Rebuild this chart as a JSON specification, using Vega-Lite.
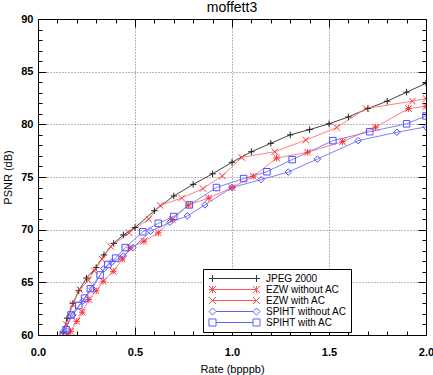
{
  "$schema": "https://vega.github.io/schema/vega-lite/v6.json",
  "width": 388,
  "height": 316,
  "autosize": "none",
  "padding": {"left": 38, "top": 19, "right": 7, "bottom": 40},
  "background": "white",
  "title": {"text": "moffett3", "fontSize": 14, "fontWeight": "normal", "font": "Liberation Sans", "baseline": "alphabetic", "frame": "group", "offset": 0, "dy": 13, "color": "black"},
  "config": {
    "font": "Liberation Sans",
    "view": {"stroke": "black", "strokeWidth": 1},
    "axis": {
      "domain": false,
      "labelFont": "Liberation Sans",
      "labelFontSize": 11,
      "labelFontWeight": "bold",
      "labelColor": "black",
      "tickColor": "black",
      "tickWidth": 1,
      "titleFont": "Liberation Sans",
      "titleFontSize": 11,
      "titleFontWeight": "normal",
      "titleColor": "black",
      "gridDash": [1, 2],
      "gridWidth": 1,
      "gridOpacity": 1
    }
  },
  "data": {
    "values": [
      {"series": "JPEG 2000", "rate": 0.13, "psnr": 60.2},
      {"series": "JPEG 2000", "rate": 0.15, "psnr": 61.6},
      {"series": "JPEG 2000", "rate": 0.18, "psnr": 63.0},
      {"series": "JPEG 2000", "rate": 0.21, "psnr": 64.2},
      {"series": "JPEG 2000", "rate": 0.25, "psnr": 65.4},
      {"series": "JPEG 2000", "rate": 0.3, "psnr": 66.4},
      {"series": "JPEG 2000", "rate": 0.34, "psnr": 67.6},
      {"series": "JPEG 2000", "rate": 0.39, "psnr": 68.7},
      {"series": "JPEG 2000", "rate": 0.44, "psnr": 69.5},
      {"series": "JPEG 2000", "rate": 0.5, "psnr": 70.2},
      {"series": "JPEG 2000", "rate": 0.6, "psnr": 71.8},
      {"series": "JPEG 2000", "rate": 0.7, "psnr": 73.2},
      {"series": "JPEG 2000", "rate": 0.8, "psnr": 74.3},
      {"series": "JPEG 2000", "rate": 0.9, "psnr": 75.3},
      {"series": "JPEG 2000", "rate": 1.0, "psnr": 76.4},
      {"series": "JPEG 2000", "rate": 1.1, "psnr": 77.4},
      {"series": "JPEG 2000", "rate": 1.2, "psnr": 78.2},
      {"series": "JPEG 2000", "rate": 1.3, "psnr": 79.0},
      {"series": "JPEG 2000", "rate": 1.4, "psnr": 79.5},
      {"series": "JPEG 2000", "rate": 1.5, "psnr": 80.05},
      {"series": "JPEG 2000", "rate": 1.6, "psnr": 80.7},
      {"series": "JPEG 2000", "rate": 1.7, "psnr": 81.5},
      {"series": "JPEG 2000", "rate": 1.8, "psnr": 82.2},
      {"series": "JPEG 2000", "rate": 1.9, "psnr": 83.05},
      {"series": "JPEG 2000", "rate": 2.0, "psnr": 83.9},

      {"series": "EZW without AC", "rate": 0.155, "psnr": 60.0},
      {"series": "EZW without AC", "rate": 0.168, "psnr": 60.35},
      {"series": "EZW without AC", "rate": 0.2, "psnr": 61.3},
      {"series": "EZW without AC", "rate": 0.228, "psnr": 62.16},
      {"series": "EZW without AC", "rate": 0.262, "psnr": 63.36},
      {"series": "EZW without AC", "rate": 0.3, "psnr": 64.2},
      {"series": "EZW without AC", "rate": 0.336, "psnr": 65.1},
      {"series": "EZW without AC", "rate": 0.388, "psnr": 66.05},
      {"series": "EZW without AC", "rate": 0.434, "psnr": 67.2},
      {"series": "EZW without AC", "rate": 0.474, "psnr": 68.27},
      {"series": "EZW without AC", "rate": 0.546, "psnr": 68.9},
      {"series": "EZW without AC", "rate": 0.62, "psnr": 69.7},
      {"series": "EZW without AC", "rate": 0.692, "psnr": 70.96},
      {"series": "EZW without AC", "rate": 0.775, "psnr": 72.35},
      {"series": "EZW without AC", "rate": 0.88, "psnr": 73.0},
      {"series": "EZW without AC", "rate": 1.0, "psnr": 74.0},
      {"series": "EZW without AC", "rate": 1.11, "psnr": 75.07},
      {"series": "EZW without AC", "rate": 1.23, "psnr": 76.8},
      {"series": "EZW without AC", "rate": 1.39, "psnr": 77.35},
      {"series": "EZW without AC", "rate": 1.57, "psnr": 78.35},
      {"series": "EZW without AC", "rate": 1.74, "psnr": 79.73},
      {"series": "EZW without AC", "rate": 1.91, "psnr": 81.5},
      {"series": "EZW without AC", "rate": 2.0, "psnr": 81.7},

      {"series": "EZW with AC", "rate": 0.13, "psnr": 60.0},
      {"series": "EZW with AC", "rate": 0.145, "psnr": 61.0},
      {"series": "EZW with AC", "rate": 0.18, "psnr": 62.9},
      {"series": "EZW with AC", "rate": 0.215, "psnr": 64.3},
      {"series": "EZW with AC", "rate": 0.26, "psnr": 65.2},
      {"series": "EZW with AC", "rate": 0.29, "psnr": 66.1},
      {"series": "EZW with AC", "rate": 0.33, "psnr": 67.2},
      {"series": "EZW with AC", "rate": 0.375, "psnr": 68.4},
      {"series": "EZW with AC", "rate": 0.47, "psnr": 69.7},
      {"series": "EZW with AC", "rate": 0.57, "psnr": 71.0},
      {"series": "EZW with AC", "rate": 0.63, "psnr": 72.3},
      {"series": "EZW with AC", "rate": 0.74, "psnr": 73.0},
      {"series": "EZW with AC", "rate": 0.85, "psnr": 73.9},
      {"series": "EZW with AC", "rate": 0.95, "psnr": 75.1},
      {"series": "EZW with AC", "rate": 1.05, "psnr": 76.85},
      {"series": "EZW with AC", "rate": 1.22, "psnr": 77.4},
      {"series": "EZW with AC", "rate": 1.38, "psnr": 78.5},
      {"series": "EZW with AC", "rate": 1.54, "psnr": 79.7},
      {"series": "EZW with AC", "rate": 1.69, "psnr": 81.5},
      {"series": "EZW with AC", "rate": 1.93, "psnr": 82.2},
      {"series": "EZW with AC", "rate": 2.0, "psnr": 82.45},

      {"series": "SPIHT without AC", "rate": 0.133, "psnr": 60.4},
      {"series": "SPIHT without AC", "rate": 0.18, "psnr": 61.9},
      {"series": "SPIHT without AC", "rate": 0.23, "psnr": 63.2},
      {"series": "SPIHT without AC", "rate": 0.28, "psnr": 64.4},
      {"series": "SPIHT without AC", "rate": 0.34, "psnr": 66.3},
      {"series": "SPIHT without AC", "rate": 0.38, "psnr": 66.9},
      {"series": "SPIHT without AC", "rate": 0.44, "psnr": 67.5},
      {"series": "SPIHT without AC", "rate": 0.49, "psnr": 68.3},
      {"series": "SPIHT without AC", "rate": 0.58, "psnr": 69.85},
      {"series": "SPIHT without AC", "rate": 0.68, "psnr": 70.7},
      {"series": "SPIHT without AC", "rate": 0.77, "psnr": 71.3},
      {"series": "SPIHT without AC", "rate": 0.86, "psnr": 72.35},
      {"series": "SPIHT without AC", "rate": 1.0, "psnr": 74.0},
      {"series": "SPIHT without AC", "rate": 1.15, "psnr": 74.75},
      {"series": "SPIHT without AC", "rate": 1.29, "psnr": 75.47},
      {"series": "SPIHT without AC", "rate": 1.44, "psnr": 76.7},
      {"series": "SPIHT without AC", "rate": 1.65, "psnr": 78.45},
      {"series": "SPIHT without AC", "rate": 1.85, "psnr": 79.25},
      {"series": "SPIHT without AC", "rate": 2.0, "psnr": 79.76},

      {"series": "SPIHT with AC", "rate": 0.13, "psnr": 60.0},
      {"series": "SPIHT with AC", "rate": 0.145, "psnr": 60.5},
      {"series": "SPIHT with AC", "rate": 0.17, "psnr": 61.9},
      {"series": "SPIHT with AC", "rate": 0.21, "psnr": 62.8},
      {"series": "SPIHT with AC", "rate": 0.24, "psnr": 63.5},
      {"series": "SPIHT with AC", "rate": 0.27, "psnr": 64.4},
      {"series": "SPIHT with AC", "rate": 0.32, "psnr": 65.7},
      {"series": "SPIHT with AC", "rate": 0.36, "psnr": 66.7},
      {"series": "SPIHT with AC", "rate": 0.4, "psnr": 67.3},
      {"series": "SPIHT with AC", "rate": 0.45, "psnr": 68.3},
      {"series": "SPIHT with AC", "rate": 0.54, "psnr": 69.8},
      {"series": "SPIHT with AC", "rate": 0.62, "psnr": 70.6},
      {"series": "SPIHT with AC", "rate": 0.7, "psnr": 71.25},
      {"series": "SPIHT with AC", "rate": 0.78, "psnr": 72.35},
      {"series": "SPIHT with AC", "rate": 0.92, "psnr": 74.0},
      {"series": "SPIHT with AC", "rate": 1.06, "psnr": 74.85},
      {"series": "SPIHT with AC", "rate": 1.18, "psnr": 75.5},
      {"series": "SPIHT with AC", "rate": 1.31, "psnr": 76.65},
      {"series": "SPIHT with AC", "rate": 1.52, "psnr": 78.45},
      {"series": "SPIHT with AC", "rate": 1.71, "psnr": 79.3},
      {"series": "SPIHT with AC", "rate": 1.9, "psnr": 80.05},
      {"series": "SPIHT with AC", "rate": 2.0, "psnr": 80.8}
    ]
  },
  "resolve": {
    "scale": {"stroke": "independent", "shape": "independent", "color": "independent"},
    "axis": {"x": "independent", "y": "independent"}
  },
  "layer": [
    {
      "mark": {"type": "line", "strokeWidth": 1, "clip": true},
      "encoding": {
        "x": {
          "field": "rate", "type": "quantitative",
          "scale": {"domain": [0, 2], "nice": false, "zero": false},
          "axis": {
            "orient": "bottom",
            "title": "Rate (bpppb)",
            "titlePadding": 2,
            "values": [0, 0.1, 0.2, 0.3, 0.4, 0.5, 0.6, 0.7, 0.8, 0.9, 1.0, 1.1, 1.2, 1.3, 1.4, 1.5, 1.6, 1.7, 1.8, 1.9, 2.0],
            "labelExpr": "abs(datum.value*2 - round(datum.value*2)) < 0.001 ? format(datum.value, '.1f') : ''",
            "tickSize": {"condition": {"test": "abs(datum.value*2 - round(datum.value*2)) < 0.001", "value": -8}, "value": -4},
            "labelPadding": 19,
            "labelFlush": false,
            "labelOverlap": false,
            "grid": true,
            "gridColor": {"condition": {"test": "abs(datum.value*2 - round(datum.value*2)) < 0.001 && datum.value > 0.01 && datum.value < 1.99", "value": "#707070"}, "value": "rgba(0,0,0,0)"}
          }
        },
        "y": {
          "field": "psnr", "type": "quantitative",
          "scale": {"domain": [60, 90], "nice": false, "zero": false},
          "axis": {
            "orient": "left",
            "title": "PSNR (dB)",
            "titlePadding": 7,
            "values": [60,61,62,63,64,65,66,67,68,69,70,71,72,73,74,75,76,77,78,79,80,81,82,83,84,85,86,87,88,89,90],
            "labelExpr": "datum.value % 5 === 0 ? datum.value : ''",
            "tickSize": {"condition": {"test": "datum.value % 5 === 0", "value": -8}, "value": -4},
            "labelPadding": 13,
            "labelFlush": false,
            "labelOverlap": false,
            "grid": true,
            "gridColor": {"condition": {"test": "datum.value % 5 === 0 && datum.value > 60 && datum.value < 90", "value": "#707070"}, "value": "rgba(0,0,0,0)"}
          }
        },
        "stroke": {
          "field": "series", "type": "nominal",
          "scale": {
            "domain": ["JPEG 2000", "EZW without AC", "EZW with AC", "SPIHT without AC", "SPIHT with AC"],
            "range": ["#444444", "#ff8080", "#ff8080", "#8080ff", "#8080ff"]
          },
          "legend": null
        }
      }
    },
    {
      "mark": {"type": "point", "filled": false, "size": 42, "strokeWidth": 1, "opacity": 1, "clip": true},
      "encoding": {
        "x": {
          "field": "rate", "type": "quantitative",
          "axis": {
            "orient": "top",
            "title": null,
            "labels": false,
            "grid": false,
            "values": [0, 0.1, 0.2, 0.3, 0.4, 0.5, 0.6, 0.7, 0.8, 0.9, 1.0, 1.1, 1.2, 1.3, 1.4, 1.5, 1.6, 1.7, 1.8, 1.9, 2.0],
            "tickSize": {"condition": {"test": "abs(datum.value*2 - round(datum.value*2)) < 0.001", "value": -8}, "value": -4}
          }
        },
        "y": {
          "field": "psnr", "type": "quantitative",
          "axis": {
            "orient": "right",
            "title": null,
            "labels": false,
            "grid": false,
            "values": [60,61,62,63,64,65,66,67,68,69,70,71,72,73,74,75,76,77,78,79,80,81,82,83,84,85,86,87,88,89,90],
            "tickSize": {"condition": {"test": "datum.value % 5 === 0", "value": -8}, "value": -4}
          }
        },
        "stroke": {
          "field": "series", "type": "nominal",
          "scale": {
            "domain": ["JPEG 2000", "EZW without AC", "EZW with AC", "SPIHT without AC", "SPIHT with AC"],
            "range": ["#222222", "#ff3030", "#ff3030", "#5050ff", "#5050ff"]
          },
          "legend": null
        },
        "shape": {
          "field": "series", "type": "nominal",
          "scale": {
            "domain": ["JPEG 2000", "EZW without AC", "EZW with AC", "SPIHT without AC", "SPIHT with AC"],
            "range": ["M-1,0L1,0M0,-1L0,1", "M-1,-1L1,1M-1,1L1,-1M-1,0L1,0M0,-1L0,1", "M-1,-1L1,1M-1,1L1,-1", "diamond", "square"]
          },
          "legend": null
        }
      }
    },
    {
      "transform": [{"filter": "datum.rate < 0"}],
      "mark": {"type": "point", "filled": false, "strokeWidth": 1, "opacity": 1},
      "encoding": {
        "x": {"field": "rate", "type": "quantitative", "axis": null},
        "y": {"field": "psnr", "type": "quantitative", "axis": null},
        "color": {
          "field": "series", "type": "nominal",
          "scale": {
            "domain": ["JPEG 2000", "EZW without AC", "EZW with AC", "SPIHT without AC", "SPIHT with AC"],
            "range": ["#333333", "#ff5050", "#ff5050", "#6060ff", "#6060ff"]
          },
          "legend": {
            "title": null,
            "orient": "none",
            "legendX": 165,
            "legendY": 250,
            "padding": 4,
            "clipHeight": 11,
            "rowPadding": 0,
            "symbolSize": 1936,
            "symbolOffset": 5,
            "labelOffset": 9,
            "symbolStrokeWidth": 1,
            "labelFont": "Liberation Sans",
            "labelFontSize": 10,
            "labelColor": "black",
            "strokeColor": "black",
            "fillColor": "white"
          }
        },
        "shape": {
          "field": "series", "type": "nominal",
          "scale": {
            "domain": ["JPEG 2000", "EZW without AC", "EZW with AC", "SPIHT without AC", "SPIHT with AC"],
            "range": [
              "M-1.16,0L1.16,0M-1,-0.16L-1,0.16M1,-0.16L1,0.16",
              "M-1,0L1,0M-1.16,-0.16L-0.84,0.16M-1.16,0.16L-0.84,-0.16M-1.16,0L-0.84,0M-1,-0.16L-1,0.16M0.84,-0.16L1.16,0.16M0.84,0.16L1.16,-0.16M1,-0.16L1,0.16",
              "M-1,0L1,0M-1.16,-0.16L-0.84,0.16M-1.16,0.16L-0.84,-0.16M0.84,-0.16L1.16,0.16M0.84,0.16L1.16,-0.16",
              "M-0.84,0L0.84,0M-1.16,0L-1,-0.16L-0.84,0L-1,0.16ZM0.84,0L1,-0.16L1.16,0L1,0.16Z",
              "M-0.84,0L0.84,0M-1.16,-0.16L-0.84,-0.16L-0.84,0.16L-1.16,0.16ZM0.84,-0.16L1.16,-0.16L1.16,0.16L0.84,0.16Z"
            ]
          },
          "legend": {
            "title": null,
            "orient": "none",
            "legendX": 165,
            "legendY": 250,
            "padding": 4,
            "clipHeight": 11,
            "rowPadding": 0,
            "symbolSize": 1936,
            "symbolOffset": 5,
            "labelOffset": 9,
            "symbolStrokeWidth": 1,
            "labelFont": "Liberation Sans",
            "labelFontSize": 10,
            "labelColor": "black",
            "strokeColor": "black",
            "fillColor": "white"
          }
        }
      }
    }
  ]
}
